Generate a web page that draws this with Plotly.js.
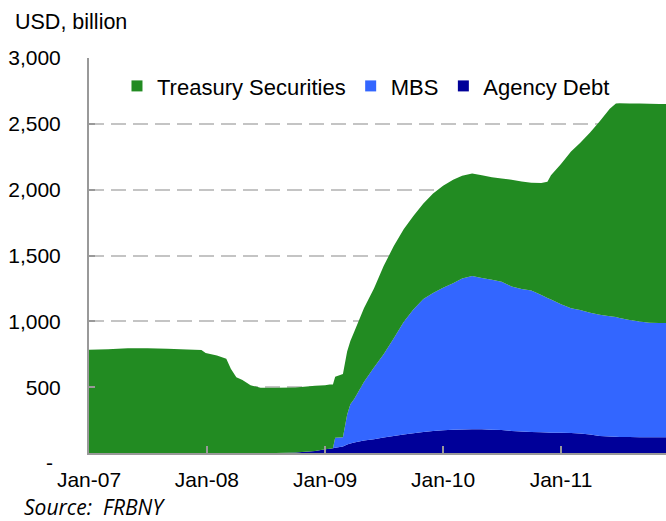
<!DOCTYPE html>
<html>
<head>
<meta charset="utf-8">
<script src="https://cdn.plot.ly/plotly-3.0.1.min.js"></script>
<style>html,body{margin:0;padding:0;background:#fff;}#chart{width:666px;height:521px;}</style>
</head>
<body>
<div id="chart"></div>
<script>
// Dates of observations
var dates = ['2007-01-01','2007-03-01','2007-05-01','2007-07-01','2007-09-01','2007-11-01','2007-12-15','2007-12-28',
  '2008-02-01','2008-03-01','2008-03-15','2008-04-01','2008-04-20','2008-05-15','2008-06-15','2008-08-01','2008-10-01','2008-12-01',
  '2009-01-01','2009-01-15','2009-01-25','2009-02-01','2009-02-25','2009-03-10','2009-03-20','2009-04-01','2009-05-01','2009-06-01',
  '2009-07-01','2009-08-01','2009-09-01','2009-10-01','2009-11-01','2009-12-01','2010-01-01','2010-02-01','2010-03-01','2010-04-01',
  '2010-05-01','2010-06-01','2010-07-01','2010-08-01','2010-09-01','2010-10-01','2010-11-01','2010-11-20','2010-12-01','2011-01-01',
  '2011-02-01','2011-03-01','2011-04-01','2011-05-01','2011-06-01','2011-06-20','2011-07-01','2011-08-01','2011-09-01','2011-10-01',
  '2011-11-01','2011-11-25'];

// USD billion
var treasury = [785,788,795,795,792,786,782,760,
  740,715,640,575,555,515,495,495,495,495,
  487,487,484,465,480,480,480,510,560,600,
  670,700,705,710,725,755,775,785,780,778,
  780,780,785,810,817,817,850,883,945,1065,
  1190,1268,1370,1470,1577,1623,1631,1645,1657,1662,
  1662,1662];

var mbs = [0,0,0,0,0,0,0,0,
  0,0,0,0,0,0,0,0,0,0,
  0,0,0,75,70,225,298,330,445,545,
  632,740,855,940,1010,1047,1082,1113,1146,1164,
  1150,1138,1126,1097,1082,1075,1043,1022,1011,977,
  949,937,925,920,913,909,903,889,878,871,
  869,869];

var agency = [0,0,0,0,0,0,0,0,
  0,0,0,0,0,0,0,0,3,15,
  28,33,36,40,50,65,72,80,95,105,
  118,130,140,150,160,168,173,177,179,180,
  180,177,174,168,163,160,157,155,154,153,
  151,149,140,130,125,123,122,121,120,119,
  119,119];

var seriesNames = ['Treasury Securities','MBS','Agency Debt'];
var seriesColors = ['#228B22','#3366FF','#000099'];

var yTickVals = [0,500,1000,1500,2000,2500,3000];
var yTickText = ['','500','1,000','1,500','2,000','2,500','3,000'];

var FONT = 'Liberation Sans, Arial, sans-serif';

function area(y, name, color){
  return {x: dates, y: y, name: name, type: 'scatter', mode: 'none', stackgroup: 'one',
    fillcolor: color, line: {width: 0}, showlegend: false, hoverinfo: 'skip'};
}
function legendEntry(name, color){
  return {x: [null], y: [null], name: name, type: 'scatter', mode: 'markers',
    marker: {symbol: 'square', size: 11, color: color}, showlegend: true, hoverinfo: 'skip'};
}

var traces = [
  area(agency, seriesNames[2], seriesColors[2]),
  area(mbs, seriesNames[1], seriesColors[1]),
  area(treasury, seriesNames[0], seriesColors[0]),
  legendEntry(seriesNames[0], seriesColors[0]),
  legendEntry(seriesNames[1], seriesColors[1]),
  legendEntry(seriesNames[2], seriesColors[2])
];

var layout = {
  width: 666, height: 521,
  margin: {l: 89, r: 0, t: 58, b: 68, pad: 0},
  paper_bgcolor: '#ffffff', plot_bgcolor: '#ffffff',
  font: {family: FONT, size: 21, color: '#000000'},
  showlegend: true,
  legend: {orientation: 'h', x: 0.0485, xanchor: 'left', y: 0.982, yanchor: 'top',
    bgcolor: 'rgba(0,0,0,0)', font: {family: FONT, size: 22, color: '#000'}, traceorder: 'normal'},
  xaxis: {type: 'date', range: ['2007-01-01','2011-11-22'], tick0: '2007-01-01', dtick: 'M12',
    tickformat: '%b-%y', showgrid: false, zeroline: false, showline: true, linecolor: '#999999', linewidth: 2,
    ticks: 'inside', ticklen: 7, tickwidth: 2, tickcolor: '#999999', ticklabelstandoff: 7,
    tickfont: {family: FONT, size: 21, color: '#000'}, fixedrange: true},
  yaxis: {range: [0, 3000], tickmode: 'array', tickvals: yTickVals, ticktext: yTickText,
    showgrid: true, gridcolor: '#C4C4C4', gridwidth: 2, griddash: '15px,7px', zeroline: false,
    showline: true, linecolor: '#999999', linewidth: 2, ticks: 'inside', ticklen: 6, tickwidth: 2, tickcolor: '#999999',
    ticklabelstandoff: 22, tickfont: {family: FONT, size: 21, color: '#000'}, fixedrange: true},
  annotations: [
    {text: 'USD, billion', xref: 'paper', yref: 'paper', x: -0.1317, y: 1.091, xanchor: 'left', yanchor: 'middle',
      showarrow: false, font: {family: FONT, size: 21.5, color: '#000'}},
    {text: '-', xref: 'paper', yref: 'y', x: -0.0693, y: 0, yshift: -9, xanchor: 'center', yanchor: 'middle',
      showarrow: false, font: {family: FONT, size: 21, color: '#000'}},
    {text: '<i>Source:  FRBNY</i>', xref: 'paper', yref: 'paper', x: -0.1161, y: -0.137, xanchor: 'left', yanchor: 'middle',
      showarrow: false, font: {family: 'Open Sans, ' + FONT, size: 21, color: '#000'}}
  ]
};

Plotly.newPlot('chart', traces, layout, {staticPlot: true, displayModeBar: false});
</script>
</body>
</html>
